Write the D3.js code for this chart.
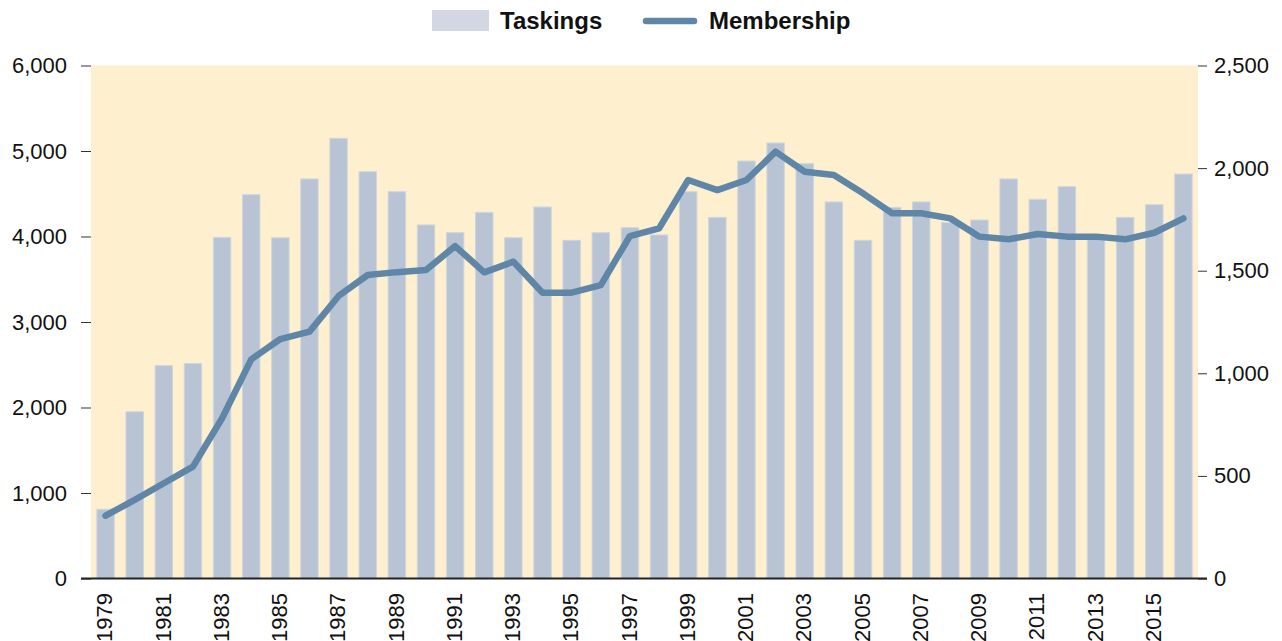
<!DOCTYPE html>
<html><head><meta charset="utf-8">
<script src="https://cdn.jsdelivr.net/npm/d3@7"></script>
<style>html,body{margin:0;padding:0;background:#fff;overflow:hidden}svg{display:block}text{font-family:"Liberation Sans",Arial,sans-serif}</style>
</head><body>
<svg id="c" width="1282" height="641"></svg>
<script>
const years = d3.range(1979, 2017);
const taskings = [810,1950,2490,2515,3990,4490,3985,4673,5148,4758,4524,4135,4045,4283,3986,4345,3955,4045,4103,4018,4524,4224,4883,5094,4852,4404,3955,4341,4404,4162,4193,4673,4435,4583,3995,4224,4372,4731];
const membership = [306,383,464,545,781,1068,1167,1203,1377,1479,1493,1503,1620,1492,1544,1393,1393,1430,1669,1706,1942,1893,1942,2080,1982,1966,1877,1780,1780,1755,1666,1653,1679,1666,1666,1653,1685,1755];
const leftTicks = [0,1000,2000,3000,4000,5000,6000];
const rightTicks = [0,500,1000,1500,2000,2500];
const seriesNames = ["Taskings","Membership"];

const svg = d3.select("#c");
const L = 91, R = 1198, T = 65.5, B = 578.5;
const x = d3.scaleBand().domain(years).range([L, R]).paddingInner(0.4).paddingOuter(0.2);
const yL = d3.scaleLinear().domain([0, 6000]).range([B, T]);
const yR = d3.scaleLinear().domain([0, 2500]).range([B, T]);
const fmt = d3.format(",");
const FS = 22;

svg.append("rect").attr("x", L).attr("y", T).attr("width", R - L).attr("height", B - T).attr("fill", "#fef0cf");

svg.append("g").selectAll("rect").data(years).join("rect")
  .attr("x", d => x(d)).attr("width", x.bandwidth())
  .attr("y", (d, i) => yL(taskings[i])).attr("height", (d, i) => B - yL(taskings[i]))
  .attr("fill", "#b8c4d4").attr("stroke", "#d0d6df").attr("stroke-width", 1);

const line = d3.line().x((d, i) => x(years[i]) + x.bandwidth() / 2).y(d => yR(d));
svg.append("path").datum(membership).attr("d", line)
  .attr("fill", "none").attr("stroke", "#6086a7").attr("stroke-width", 6.5)
  .attr("stroke-linejoin", "round").attr("stroke-linecap", "round");

// left axis
const gl = svg.append("g").attr("transform", `translate(${L},0)`)
  .call(d3.axisLeft(yL).tickValues(leftTicks).tickFormat(fmt).tickSize(10).tickPadding(14));
gl.select(".domain").remove();
gl.selectAll(".tick line").attr("stroke", "#333");
gl.selectAll(".tick text").attr("font-size", FS).attr("fill", "#111").style("font-family", '"Liberation Sans",Arial,sans-serif');

// right axis
const gr = svg.append("g").attr("transform", `translate(${R},0)`)
  .call(d3.axisRight(yR).tickValues(rightTicks).tickFormat(fmt).tickSize(9).tickPadding(7));
gr.select(".domain").remove();
gr.selectAll(".tick line").attr("stroke", "#333");
gr.selectAll(".tick text").attr("font-size", FS).attr("fill", "#111").style("font-family", '"Liberation Sans",Arial,sans-serif');

// baseline
svg.append("line").attr("x1", L - 10).attr("x2", R + 9).attr("y1", B).attr("y2", B).attr("stroke", "#222").attr("stroke-width", 2);

// bottom axis labels
const gx = svg.append("g").attr("transform", `translate(0,${B})`)
  .call(d3.axisBottom(x).tickValues(years.filter(y => (y - 1979) % 2 === 0)).tickSize(0).tickPadding(0));
gx.select(".domain").remove();
gx.selectAll(".tick text")
  .attr("font-size", FS).attr("fill", "#111").style("font-family", '"Liberation Sans",Arial,sans-serif')
  .attr("text-anchor", "end").attr("transform", "rotate(-90)")
  .attr("x", -14.5).attr("y", -1).attr("dy", "0.35em");

// legend
const lg = svg.append("g");
lg.append("rect").attr("x", 432).attr("y", 10).attr("width", 57).attr("height", 21).attr("fill", "#d2d7e3");
lg.append("text").attr("x", 500).attr("y", 29).attr("font-size", 24).attr("font-weight", "bold").attr("fill", "#111").text(seriesNames[0]);
lg.append("line").attr("x1", 646).attr("x2", 694).attr("y1", 21).attr("y2", 21).attr("stroke", "#6086a7").attr("stroke-width", 6.5).attr("stroke-linecap", "round");
lg.append("text").attr("x", 709).attr("y", 29).attr("font-size", 24).attr("font-weight", "bold").attr("fill", "#111").text(seriesNames[1]);
</script>
</body></html>
